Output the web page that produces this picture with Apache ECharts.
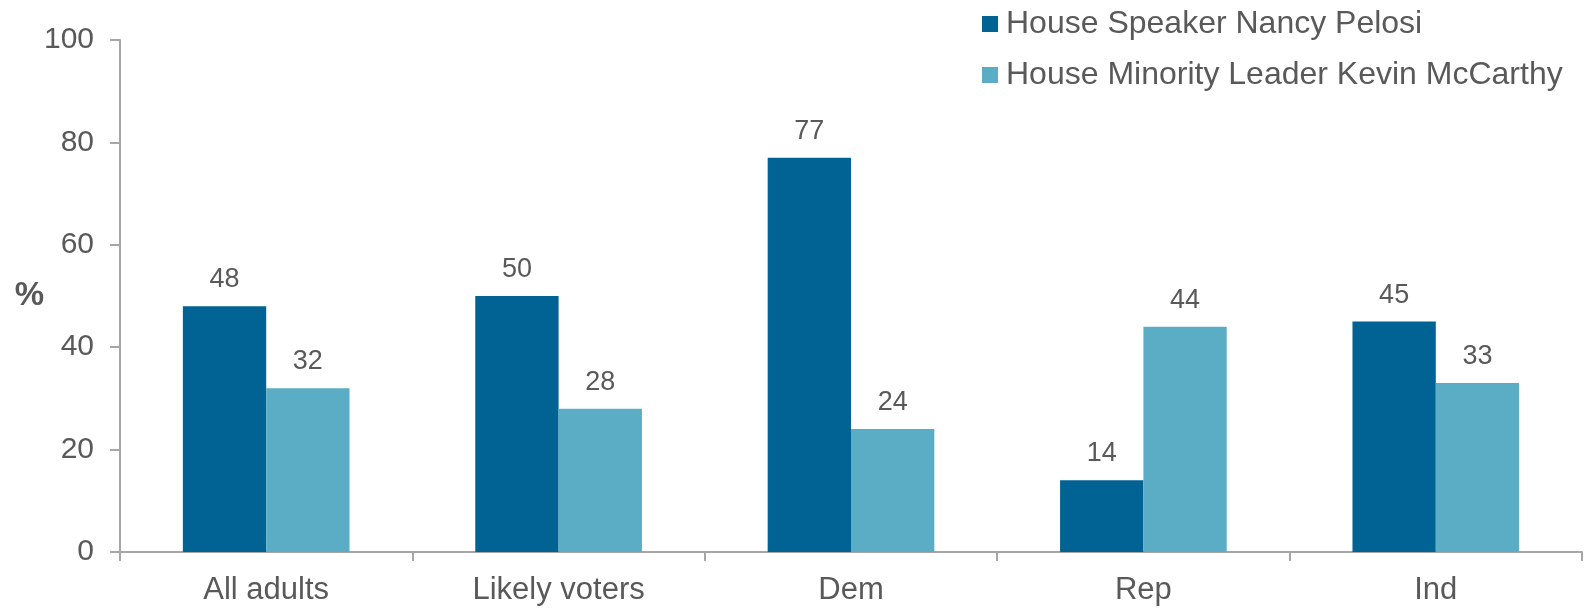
<!DOCTYPE html>
<html><head><meta charset="utf-8">
<script src="https://cdn.jsdelivr.net/npm/echarts@6/dist/echarts.min.js"></script>
<style>html,body{margin:0;padding:0;background:#fff}#c{width:1587px;height:608px}</style>
</head><body><div id="c"></div>
<script>
const categories = ['All adults', 'Likely voters', 'Dem', 'Rep', 'Ind'];
const pelosi = [48, 50, 77, 14, 45];
const mccarthy = [32, 28, 24, 44, 33];
const seriesNames = ['House Speaker Nancy Pelosi', 'House Minority Leader Kevin McCarthy'];
const yTicks = [0, 20, 40, 60, 80, 100];

const txt = '#595959';
const axisCol = '#A6A6A6';
const font = '"Liberation Sans", Arial, sans-serif';
const chart = echarts.init(document.getElementById('c'));
chart.setOption({
  animation: false,
  textStyle: { fontFamily: font },
  legend: {
    orient: 'vertical', left: 977, top: 3,
    itemWidth: 16, itemHeight: 16, itemGap: 19,
    icon: 'rect',
    textStyle: { fontSize: 32, color: txt, fontFamily: font, padding: [0, 0, 0, 3] },
    data: seriesNames
  },
  grid: { left: 120, right: 5, top: 40, bottom: 56, containLabel: false },
  xAxis: {
    type: 'category', data: categories,
    axisLine: { lineStyle: { color: axisCol, width: 2 } },
    axisTick: { show: true, length: 9, lineStyle: { color: axisCol, width: 2 } },
    axisLabel: { fontSize: 31, color: txt, margin: 23, fontFamily: font }
  },
  yAxis: {
    type: 'value', min: yTicks[0], max: yTicks[yTicks.length - 1], interval: 20,
    name: '%', nameLocation: 'middle', nameRotate: 0, nameGap: 76,
    nameMoveOverlap: false,
    nameTextStyle: { fontSize: 33, fontWeight: 'bold', color: txt, fontFamily: font, padding: [0, 0, 26, 0] },
    axisLine: { show: true, lineStyle: { color: axisCol, width: 2 } },
    axisTick: { show: true, length: 10, lineStyle: { color: axisCol, width: 2 } },
    splitLine: { show: false },
    axisLabel: { fontSize: 30, color: txt, margin: 26, fontFamily: font }
  },
  series: [
    {
      name: seriesNames[0], type: 'bar', data: pelosi,
      barGap: '0%', barCategoryGap: '43%',
      itemStyle: { color: '#006394' },
      label: { show: true, position: 'top', distance: 13, fontSize: 27, color: txt, fontFamily: font }
    },
    {
      name: seriesNames[1], type: 'bar', data: mccarthy,
      barGap: '0%', barCategoryGap: '43%',
      itemStyle: { color: '#5BADC6' },
      label: { show: true, position: 'top', distance: 13, fontSize: 27, color: txt, fontFamily: font }
    }
  ]
});
</script></body></html>
